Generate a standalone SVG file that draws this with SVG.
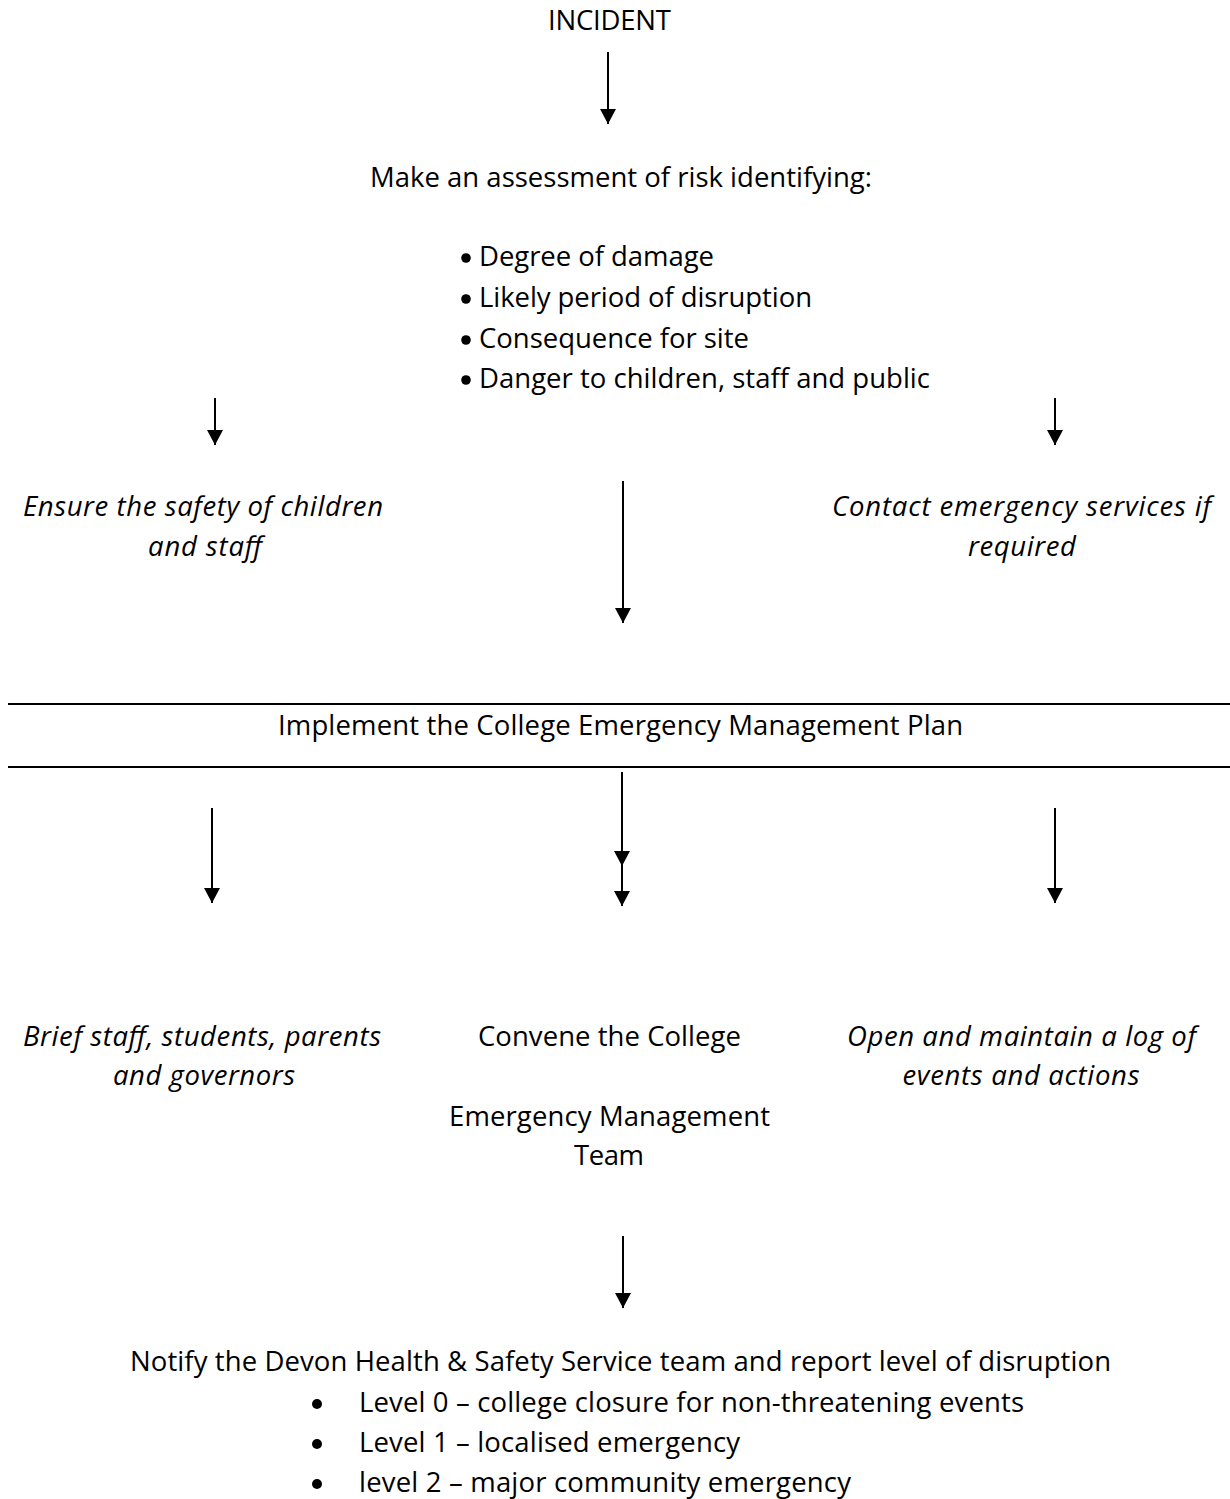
<svg xmlns="http://www.w3.org/2000/svg" width="1230" height="1499" viewBox="0 0 1230 1499">
<defs>
<marker id="ah" markerUnits="userSpaceOnUse" markerWidth="16" markerHeight="18" viewBox="0 -9 16 18" refX="15" refY="0" orient="auto">
<path d="M0,-8 L15,0 L0,8 z" fill="#000"/>
</marker>
<style>
text{font-family:"Open Sans","Liberation Sans",sans-serif;font-size:27.5px;fill:#000}
.c{text-anchor:middle}
.i{font-style:italic}
.ln{stroke:#000;stroke-width:2;fill:none}
.ar{stroke:#000;stroke-width:2;fill:none;marker-end:url(#ah)}
.b{fill:#000}
</style>
</defs>
<rect width="1230" height="1499" fill="#fff"/>
<g id="connectors">
<line class="ar" x1="608" y1="52" x2="608" y2="124"/>
<line class="ar" x1="215" y1="398" x2="215" y2="445"/>
<line class="ar" x1="1055" y1="398" x2="1055" y2="445"/>
<line class="ar" x1="623" y1="481" x2="623" y2="623"/>
<line class="ln" x1="8" y1="704" x2="1230" y2="704"/>
<line class="ln" x1="8" y1="767" x2="1230" y2="767"/>
<line class="ar" x1="212" y1="808" x2="212" y2="903"/>
<line class="ar" x1="622" y1="772" x2="622" y2="866"/>
<line class="ar" x1="622" y1="866" x2="622" y2="906"/>
<line class="ar" x1="1055" y1="808" x2="1055" y2="903"/>
<line class="ar" x1="623" y1="1236" x2="623" y2="1308"/>
</g>
<g id="incident"><text class="c" x="609.5" y="30" textLength="123">INCIDENT</text></g>
<g id="assess">
<text class="c" x="621" y="187" textLength="502">Make an assessment of risk identifying:</text>
<circle class="b" cx="466" cy="258" r="4.8"/><text x="479" y="266" textLength="235">Degree of damage</text>
<circle class="b" cx="466" cy="299" r="4.8"/><text x="479" y="307" textLength="333">Likely period of disruption</text>
<circle class="b" cx="466" cy="340" r="4.8"/><text x="479" y="348" textLength="270">Consequence for site</text>
<circle class="b" cx="466" cy="380" r="4.8"/><text x="479" y="388" textLength="451">Danger to children, staff and public</text>
</g>
<g id="ensure">
<text class="c i" x="203" y="516" textLength="360">Ensure the safety of children</text>
<text class="c i" x="205" y="556" textLength="114">and staff</text>
</g>
<g id="contact">
<text class="c i" x="1021.5" y="516" textLength="379">Contact emergency services if</text>
<text class="c i" x="1022" y="556" textLength="108">required</text>
</g>
<g id="implement"><text class="c" x="620.5" y="735" textLength="685">Implement the College Emergency Management Plan</text></g>
<g id="brief">
<text class="c i" x="202" y="1046" textLength="358">Brief staff, students, parents</text>
<text class="c i" x="204" y="1085" textLength="182">and governors</text>
</g>
<g id="convene">
<text class="c" x="609.5" y="1046" textLength="263">Convene the College</text>
<text class="c" x="609.5" y="1126" textLength="321">Emergency Management</text>
<text class="c" x="609" y="1165" textLength="70">Team</text>
</g>
<g id="log">
<text class="c i" x="1021.5" y="1046" textLength="349">Open and maintain a log of</text>
<text class="c i" x="1021" y="1085" textLength="237">events and actions</text>
</g>
<g id="notify">
<text class="c" x="620.5" y="1371" textLength="981">Notify the Devon Health &amp; Safety Service team and report level of disruption</text>
<circle class="b" cx="317" cy="1404" r="5"/><text x="359" y="1412" textLength="665">Level 0 – college closure for non-threatening events</text>
<circle class="b" cx="317" cy="1444" r="5"/><text x="359" y="1452" textLength="381">Level 1 – localised emergency</text>
<circle class="b" cx="317" cy="1484" r="5"/><text x="359" y="1492" textLength="492">level 2 – major community emergency</text>
</g>
</svg>
